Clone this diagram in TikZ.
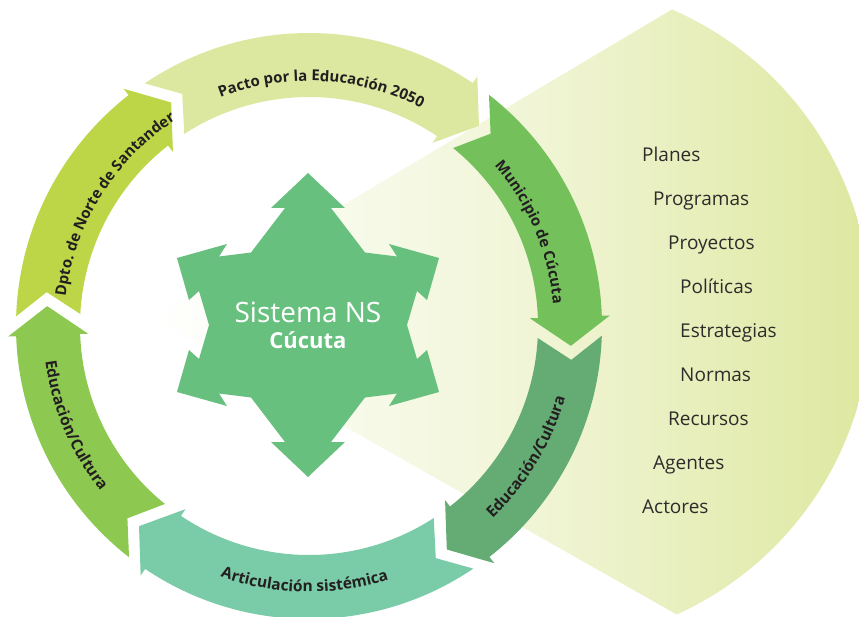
\documentclass[tikz,border=0pt]{standalone}
\usepackage{fontspec}
\setmainfont{Open Sans}
\usepackage{tikz}
\usetikzlibrary{calc,decorations.text,positioning}
\definecolor{lensgreen}{RGB}{219,230,152}
\definecolor{pactocol}{RGB}{220,232,160}
\definecolor{municol}{RGB}{116,193,92}
\definecolor{educrcol}{RGB}{100,172,116}
\definecolor{articol}{RGB}{122,203,167}
\definecolor{educlcol}{RGB}{141,200,80}
\definecolor{dptocol}{RGB}{188,214,72}
\definecolor{starcol}{RGB}{104,192,127}
\definecolor{ringtext}{RGB}{35,31,32}
\definecolor{listgray}{RGB}{45,44,43}
\tikzstyle{listitem}=[anchor=base west,inner sep=0pt,text=listgray,font=\fontsize{19}{22}\selectfont]
\tikzstyle{startext}=[anchor=base,inner sep=0pt,text=white]
\tikzstyle{ringlabel}=[decorate,decoration={text along path,text align=center,text color=ringtext}]
\newcommand{\ringsize}{\bfseries\fontsize{15}{18}\selectfont}
\newcommand{\ringbig}{\bfseries\fontsize{15.5}{18}\selectfont}
% ring arrow: tail angle, head angle, colour
\newcommand{\ringarrow}[3]{%
  \fill[#3] ({#1-9.36}:264.5) -- ({#1-3.9}:293)
    arc[start angle={#1-3.9},end angle=#2,radius=293]
    -- (#2:301) -- ({#2-6.34}:262.6) -- (#2:221) -- (#2:229)
    arc[start angle=#2,end angle={#1-5},radius=229] -- cycle;}

\begin{document}
\begin{tikzpicture}[x=1pt,y=1pt]
\fill[white] (-309,-290) rectangle (550,326);
\useasboundingbox (-309,-290) rectangle (550,326);
% lens behind the cycle
\shade[left color=white,right color=lensgreen,middle color=lensgreen!40] (-156,8) -- (363,316.5)
  arc[start angle=66.5,end angle=-65.6,radius=331] -- cycle;
% cycle of arrows
\ringarrow{128}{56}{pactocol}
\ringarrow{56}{2}{municol}
\ringarrow{2}{-52}{educrcol}
\ringarrow{-52}{-124}{articol}
\ringarrow{-124}{-178}{educlcol}
\ringarrow{182}{128}{dptocol}
% labels on the ring
\path[ringlabel,decoration={text={|\ringsize|Pacto por la Educación 2050}}] (132:245) arc[start angle=132,end angle=42,radius=245];
\path[ringlabel,decoration={text={|\ringsize|Municipio de Cúcuta}}] (68:245) arc[start angle=68,end angle=-22,radius=245];
\path[ringlabel,decoration={text={|\ringbig|Educación/Cultura}}] (-76:266) arc[start angle=-76,end angle=14,radius=266];
\path[ringlabel,decoration={text={|\ringbig|Articulación sistémica}}] (-136:266) arc[start angle=-136,end angle=-46,radius=266];
\path[ringlabel,decoration={text={|\ringbig|Educación/Cultura}}] (158:266) arc[start angle=158,end angle=248,radius=266];
\path[ringlabel,decoration={text={|\ringsize|Dpto. de Norte de Santander}}] (193:245) arc[start angle=193,end angle=103,radius=245];
% star
\fill[starcol,shift={(-1,1)}] (0,152) -- (37,117) -- (23,117) -- (57,72.5) -- (89,68.5) -- (81,81)
  -- (131,67) -- (119,25) -- (109,34) -- (99,0) -- (109,-34) -- (119,-25) -- (131,-67)
  -- (81,-81) -- (89,-68.5) -- (57,-72.5) -- (23,-117) -- (37,-117) -- (0,-152)
  -- (-37,-117) -- (-23,-117) -- (-57,-72.5) -- (-89,-68.5) -- (-81,-81) -- (-131,-67)
  -- (-119,-25) -- (-109,-34) -- (-99,0) -- (-109,34) -- (-119,25) -- (-131,67)
  -- (-81,81) -- (-89,68.5) -- (-57,72.5) -- (-23,117) -- (-37,117) -- cycle;
\node[startext,font=\fontsize{28}{32}\selectfont] (sistema) at (-1,4) {Sistema NS};
\node[startext,font=\bfseries\fontsize{22}{26}\selectfont] (cucuta) at (-1,-22) {Cúcuta};
% list
\node[listitem] (planes) at (333,164) {Planes};
\node[listitem] (programas) at (344,120) {Programas};
\node[listitem] (proyectos) at (359,77) {Proyectos};
\node[listitem] (politicas) at (371,33) {Políticas};
\node[listitem] (estrategias) at (371,-11) {Estrategias};
\node[listitem] (normas) at (371,-55) {Normas};
\node[listitem] (recursos) at (359,-99) {Recursos};
\node[listitem] (agentes) at (344,-143) {Agentes};
\node[listitem] (actores) at (333,-187) {Actores};
\end{tikzpicture}
\end{document}
